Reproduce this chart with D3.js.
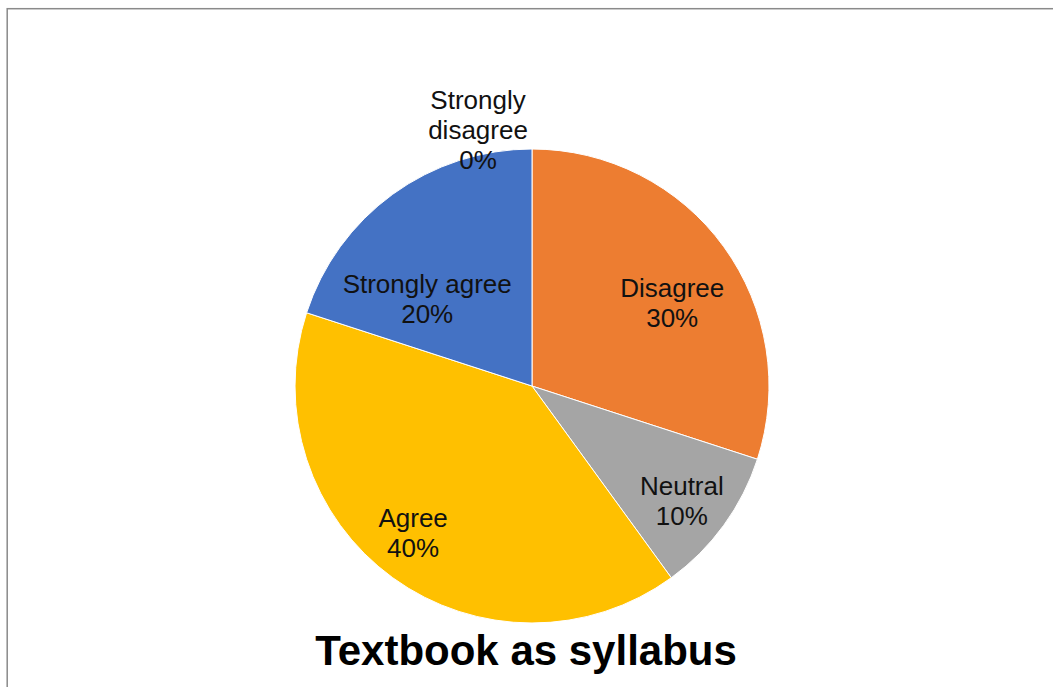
<!DOCTYPE html>
<html>
<head>
<meta charset="utf-8">
<script src="https://cdn.jsdelivr.net/npm/d3@7"></script>
<style>
  html, body { margin: 0; padding: 0; background: #fff; }
  svg { display: block; }
</style>
</head>
<body>
<svg id="chart" width="1053" height="687"></svg>
<script>
// Survey responses: "Textbook as syllabus"
const categories = ["Strongly disagree", "Disagree", "Neutral", "Agree", "Strongly agree"];
const shares = [0, 30, 10, 40, 20];
const sliceColors = ["#4472C4", "#ED7D31", "#A5A5A5", "#FFC000", "#4472C4"];
const chartTitle = "Textbook as syllabus";

const W = 1053, H = 687;
const cx = 532, cy = 386, radius = 237;
const font = "'Liberation Sans', Arial, sans-serif";

const svg = d3.select("#chart");

// chart frame (extends past the visible window on the right and bottom)
svg.append("rect")
  .attr("x", 7.2).attr("y", 8.7)
  .attr("width", W + 20).attr("height", H + 20)
  .attr("fill", "#fff")
  .attr("stroke", "#8a8a8a")
  .attr("stroke-width", 1.5);

const data = categories.map((c, i) => ({ name: c, value: shares[i], color: sliceColors[i] }));

const pie = d3.pie().sort(null).value(d => d.value);
const arcs = pie(data);
const arc = d3.arc().innerRadius(0).outerRadius(radius);

const g = svg.append("g").attr("transform", `translate(${cx},${cy})`);

g.selectAll("path.slice")
  .data(arcs.filter(a => a.data.value > 0))
  .join("path")
  .attr("class", "slice")
  .attr("d", arc)
  .attr("fill", d => d.data.color)
  .attr("stroke", "#fff")
  .attr("stroke-width", 1);

// label placement: turn (degrees) off the slice's mid-angle, and distance as a share of the radius
const labelLayout = {
  "Disagree":       { turn: 5.3,   frac: 0.688 },
  "Neutral":        { turn: 1.5,   frac: 0.797 },
  "Agree":          { turn: 3.0,   frac: 0.797 },
  "Strongly agree": { turn: -14.4, frac: 0.574 }
};
const lineH = 30;

arcs.forEach(a => {
  let x, y, textLines;
  const mid = (a.startAngle + a.endAngle) / 2;
  if (a.data.value === 0) {
    // empty slice: label sits just above the rim, left of the start line
    textLines = ["Strongly", "disagree", Math.round(a.data.value) + "%"];
    const rimX = radius * Math.sin(mid), rimY = -radius * Math.cos(mid);
    x = rimX - 54;
    y = rimY - 19;
  } else {
    textLines = [a.data.name, Math.round(a.data.value) + "%"];
    const lay = labelLayout[a.data.name] || { turn: 0, frac: 0.75 };
    const ang = mid + lay.turn * Math.PI / 180;
    const r = radius * lay.frac;
    x = r * Math.sin(ang);
    y = -r * Math.cos(ang);
  }
  const n = textLines.length;
  const t = g.append("text")
    .attr("text-anchor", "middle")
    .attr("font-family", font)
    .attr("font-size", 26)
    .attr("fill", "#111");
  textLines.forEach((s, i) => {
    t.append("tspan")
      .attr("x", x)
      .attr("y", y + (i - (n - 1) / 2) * lineH + 9)
      .text(s);
  });
});

svg.append("text")
  .attr("x", 526).attr("y", 665)
  .attr("text-anchor", "middle")
  .attr("font-family", font)
  .attr("font-weight", "bold")
  .attr("font-size", 42)
  .attr("fill", "#000")
  .text(chartTitle);
</script>
</body>
</html>
